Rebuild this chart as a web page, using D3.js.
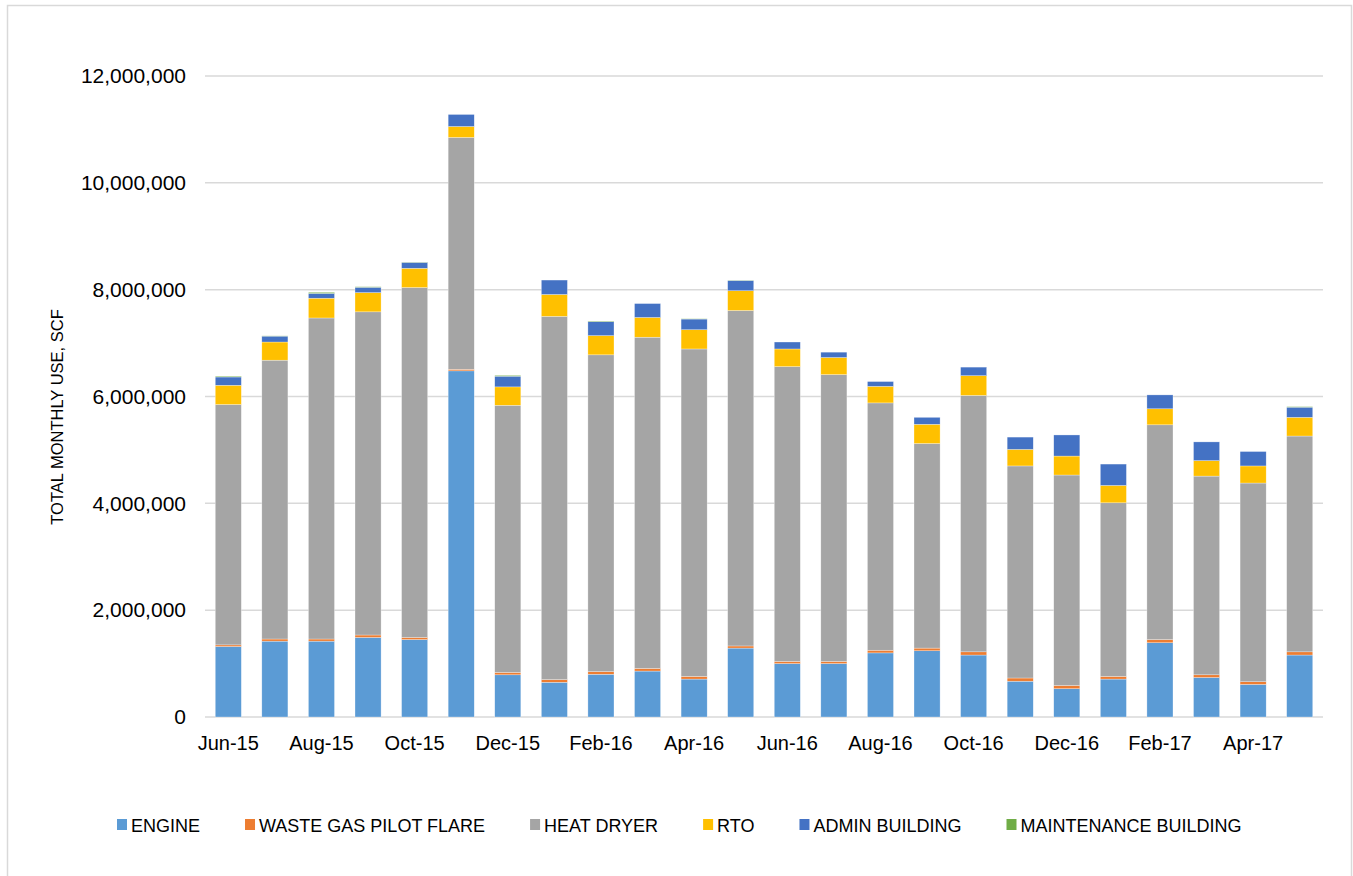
<!DOCTYPE html>
<html>
<head>
<meta charset="utf-8">
<script src="https://d3js.org/d3.v7.min.js"></script>
<style>
  body { margin: 0; background: #fff; }
  #chart { width: 1353px; height: 876px; }
</style>
</head>
<body>
<div id="chart"></div>
<script>
// monthly gas use per consumer, SCF
const months = ["Jun-15","Jul-15","Aug-15","Sep-15","Oct-15","Nov-15","Dec-15","Jan-16","Feb-16","Mar-16","Apr-16","May-16",
                "Jun-16","Jul-16","Aug-16","Sep-16","Oct-16","Nov-16","Dec-16","Jan-17","Feb-17","Mar-17","Apr-17","May-17"];
const engine = [1320000,1420000,1420000,1490000,1450000,6480000,790000,650000,800000,860000,710000,1290000,
                1000000,1000000,1200000,1240000,1160000,670000,530000,710000,1390000,740000,610000,1160000];
const wasteGasFlare = [30000,40000,40000,45000,40000,30000,45000,50000,50000,50000,50000,40000,
                       40000,40000,50000,50000,60000,60000,60000,50000,60000,50000,50000,60000];
const heatDryer = [4500000,5220000,6010000,6050000,6550000,4340000,5000000,6800000,5930000,6200000,6130000,6280000,
                   5520000,5370000,4630000,3830000,4800000,3970000,3940000,3250000,4020000,3720000,3720000,4040000];
const rto = [360000,340000,370000,360000,360000,205000,345000,410000,360000,370000,360000,370000,
             330000,320000,310000,360000,370000,310000,355000,325000,300000,290000,320000,350000];
const adminBuilding = [155000,110000,90000,100000,110000,225000,200000,270000,260000,260000,200000,190000,
                       130000,100000,90000,130000,160000,230000,395000,400000,260000,350000,270000,190000];
const maintBuilding = [15000,5000,20000,10000,5000,0,15000,0,10000,0,5000,5000,
                       0,0,0,0,0,0,0,0,0,0,0,10000];
const yTicks = [0,2000000,4000000,6000000,8000000,10000000,12000000];

const seriesNames = ["ENGINE","WASTE GAS PILOT FLARE","HEAT DRYER","RTO","ADMIN BUILDING","MAINTENANCE BUILDING"];
const seriesValues = [engine, wasteGasFlare, heatDryer, rto, adminBuilding, maintBuilding];
const colors = ["#5B9BD5","#ED7D31","#A5A5A5","#FFC000","#4472C4","#70AD47"];

document.addEventListener('DOMContentLoaded', function () {
    const width = 1353, height = 876;
    const svg = d3.select("#chart").append("svg")
        .attr("width", width)
        .attr("height", height)
        .style("font-family", "'Liberation Sans', Arial, sans-serif");

    // outer chart border
    svg.append("rect")
        .attr("x", 7.5).attr("y", 5.5)
        .attr("width", 1344).attr("height", 880)
        .attr("fill", "none").attr("stroke", "#d9d9d9").attr("stroke-width", 1.5);

    const plot = { left: 205, right: 1323, top: 76, bottom: 717 };

    const x = d3.scaleBand()
        .domain(months)
        .range([plot.left, plot.right])
        .paddingInner(0.44)
        .paddingOuter(0.22);

    const y = d3.scaleLinear()
        .domain([0, 12000000])
        .range([plot.bottom, plot.top]);

    // gridlines
    svg.append("g").selectAll("line")
        .data(yTicks)
        .enter().append("line")
        .attr("x1", plot.left).attr("x2", plot.right)
        .attr("y1", d => y(d)).attr("y2", d => y(d))
        .attr("stroke", "#d9d9d9").attr("stroke-width", 1.5);

    // y axis labels
    const yAxis = d3.axisLeft(y).tickValues(yTicks).tickFormat(d3.format(",")).tickSize(0).tickPadding(19);
    const yG = svg.append("g").attr("transform", `translate(${plot.left},0)`).call(yAxis);
    yG.select(".domain").remove();
    yG.selectAll("text").attr("font-size", 21).attr("fill", "#000")
        .style("font-family", "'Liberation Sans', Arial, sans-serif");

    // x axis labels, every other month
    const xAxis = d3.axisBottom(x).tickValues(months.filter((m, i) => i % 2 === 0)).tickSize(0).tickPadding(19);
    const xG = svg.append("g").attr("transform", `translate(0,${plot.bottom})`).call(xAxis);
    xG.select(".domain").remove();
    xG.selectAll("text").attr("font-size", 20).attr("fill", "#000")
        .style("font-family", "'Liberation Sans', Arial, sans-serif");

    // stacked data
    const table = months.map((m, i) => {
        const row = { month: m };
        seriesNames.forEach((s, j) => { row[s] = seriesValues[j][i]; });
        return row;
    });
    const stacked = d3.stack().keys(seriesNames)(table);

    svg.append("g").selectAll("g")
        .data(stacked)
        .enter().append("g")
        .attr("fill", (d, i) => colors[i])
        .selectAll("rect")
        .data(d => d)
        .enter().append("rect")
        .attr("x", d => x(d.data.month))
        .attr("width", x.bandwidth())
        .attr("y", d => y(d[1]))
        .attr("height", d => Math.max(0, y(d[0]) - y(d[1])))
        .attr("stroke", "#ffffff").attr("stroke-width", 0.5).attr("stroke-opacity", 0.6);

    // y axis title
    svg.append("text")
        .attr("transform", "translate(63,417) rotate(-90)")
        .attr("text-anchor", "middle")
        .attr("font-size", 16.5)
        .attr("fill", "#000")
        .text("TOTAL MONTHLY USE, SCF");

    // legend
    const legend = svg.append("g").attr("transform", "translate(117,825)");
    let lx = 0;
    seriesNames.forEach((name, i) => {
        const item = legend.append("g").attr("transform", `translate(${lx},0)`);
        item.append("rect").attr("x", 0).attr("y", -6).attr("width", 10).attr("height", 11).attr("fill", colors[i]);
        const t = item.append("text").attr("x", 14).attr("y", 7)
            .attr("font-size", 18).attr("fill", "#000").text(name);
        lx += 14 + t.node().getComputedTextLength() + 45;
    });
});
</script>
</body>
</html>
